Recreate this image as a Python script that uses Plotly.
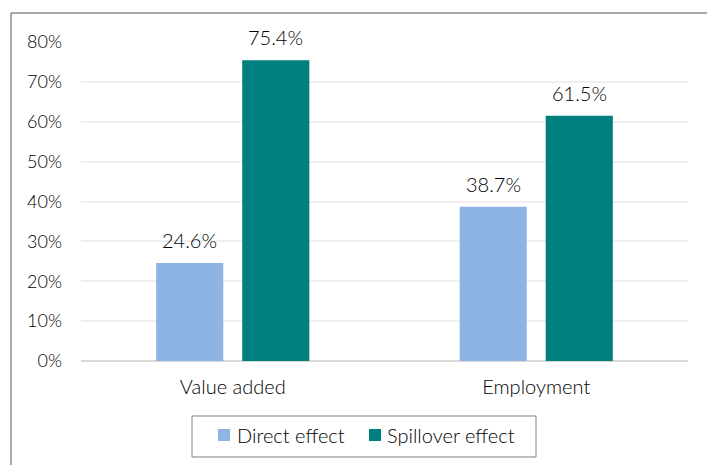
import plotly.graph_objects as go

categories = ["Value added", "Employment"]
direct_effect = [24.6, 38.7]
spillover_effect = [75.4, 61.5]
y_ticks = [0, 10, 20, 30, 40, 50, 60, 70, 80]
series_names = ["Direct effect", "Spillover effect"]
series_colors = ["#8EB4E3", "#007F7F"]

FONT = "Lato"
WEIGHT = 300
TEXT = "#000000"

W, H = 707, 465
L, R, T, B = 81, 19, 42, 104
PW, PH = W - L - R, H - T - B


def px(x):
    return (x - L) / PW


def py(y):
    return (H - B - y) / PH


def font(size):
    return dict(size=size, color=TEXT, family=FONT, weight=WEIGHT)


fig = go.Figure()
for name, vals, color in zip(series_names, [direct_effect, spillover_effect], series_colors):
    fig.add_trace(go.Bar(
        name=name, x=categories, y=vals,
        marker=dict(color=color, line=dict(width=0)),
        showlegend=False,
    ))

# value labels above each bar
annotations = []
for vals, shift in [(direct_effect, -43), (spillover_effect, 43)]:
    for cat, v in zip(categories, vals):
        annotations.append(dict(
            x=cat, y=v, xref="x", yref="y", text=f"{v:.1f}%", showarrow=False,
            xshift=shift, yshift=23, yanchor="middle", font=font(20),
        ))

# legend box with swatches
legend_items = [(218, 235), (369, 385)]
shapes = [
    dict(type="line", xref="paper", yref="paper", x0=px(11), x1=px(707),
         y0=py(13), y1=py(13), line=dict(color="#8C8C8C", width=1.5)),
    dict(type="line", xref="paper", yref="paper", x0=px(11), x1=px(11),
         y0=py(13), y1=py(465), line=dict(color="#8C8C8C", width=1.5)),
    dict(type="rect", xref="paper", yref="paper", x0=px(192), x1=px(536),
         y0=py(416), y1=py(457), line=dict(color="#808080", width=1), fillcolor="white"),
]
for (sx, tx), name, color in zip(legend_items, series_names, series_colors):
    shapes.append(dict(type="rect", xref="paper", yref="paper", x0=px(sx), x1=px(sx + 12),
                       y0=py(429), y1=py(441), line=dict(width=0), fillcolor=color))
    annotations.append(dict(x=px(tx), y=py(435), xref="paper", yref="paper", text=name,
                            showarrow=False, xanchor="left", yanchor="middle", font=font(20)))

fig.update_layout(
    width=W, height=H,
    margin=dict(l=L, r=R, t=T, b=B),
    paper_bgcolor="white", plot_bgcolor="white",
    barmode="group", bargap=0.433, bargroupgap=0.22,
    font=font(20),
    showlegend=False,
    xaxis=dict(showgrid=False, showline=False, ticks="", tickfont=font(20),
               ticklabelstandoff=12),
    yaxis=dict(
        range=[0, 80], tickvals=y_ticks, ticktext=[f"{t}%" for t in y_ticks],
        showgrid=True, gridcolor="#F0F0F0", gridwidth=1.5,
        zeroline=True, zerolinecolor="#D9D9D9", zerolinewidth=2,
        showline=False, ticks="", tickfont=font(18), ticklabelstandoff=18,
    ),
    shapes=shapes,
    annotations=annotations,
)

fig.write_html("out.html")
